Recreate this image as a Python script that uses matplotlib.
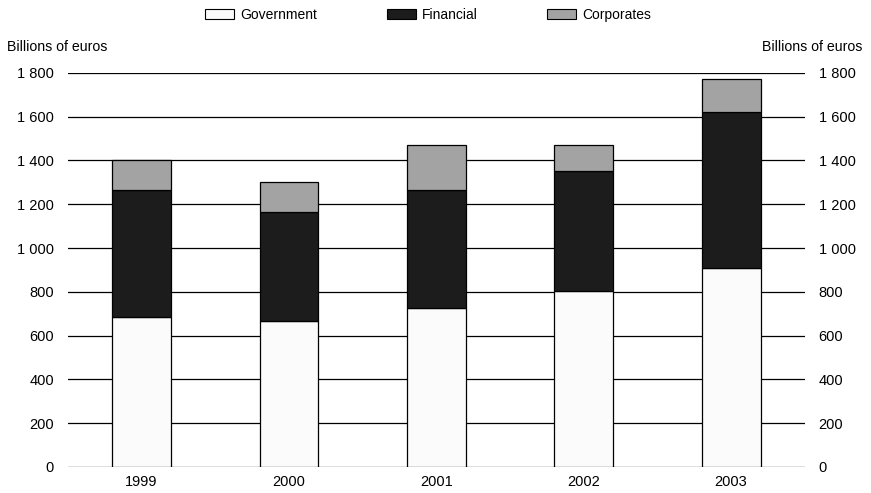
import matplotlib
matplotlib.use("Agg")
import matplotlib.pyplot as plt
from matplotlib.patches import Patch
import numpy as np

plt.rcParams['font.family'] = ['Liberation Sans', 'DejaVu Sans']

years = ["1999", "2000", "2001", "2002", "2003"]
government = [685, 667, 726, 804, 909]
financial = [580, 498, 539, 548, 713]
corporates = [135, 137, 206, 119, 150]
yticks = [0, 200, 400, 600, 800, 1000, 1200, 1400, 1600, 1800]
ytick_labels = ["0", "200", "400", "600", "800", "1 000", "1 200", "1 400", "1 600", "1 800"]
series_names = ["Government", "Financial", "Corporates"]
series_colors = ["#fbfbfb", "#1c1c1c", "#a3a3a3"]

fig = plt.figure(figsize=(8.71, 4.93), dpi=100)
ax = fig.add_axes([0.078, 0.053, 0.846, 0.799])

x = np.arange(len(years))
w = 0.4
gov = np.array(government)
fin = np.array(financial)
cor = np.array(corporates)

ax.bar(x, gov, w, color=series_colors[0], edgecolor="black", linewidth=0.9, zorder=3)
ax.bar(x, fin, w, bottom=gov, color=series_colors[1], edgecolor="black", linewidth=0.9, zorder=3)
ax.bar(x, cor, w, bottom=gov + fin, color=series_colors[2], edgecolor="black", linewidth=0.9, zorder=3)

ax.set_xlim(-0.5, 4.5)
ax.set_ylim(0, 1800)
for t in yticks:
    ax.axhline(t, color="black", linewidth=0.9, zorder=1)

for s in ax.spines.values():
    s.set_visible(False)
ax.set_yticks(yticks)
ax.set_yticklabels(ytick_labels, fontsize=10.5)
ax.tick_params(axis='y', length=0, pad=10)
ax.set_xticks(x)
ax.set_xticklabels(years, fontsize=10.5)
ax.tick_params(axis='x', length=0, pad=6)

ax2 = ax.twinx()
ax2.set_ylim(0, 1800)
ax2.set_yticks(yticks)
ax2.set_yticklabels(ytick_labels, fontsize=10.5)
ax2.tick_params(axis='y', length=0, pad=10)
for s in ax2.spines.values():
    s.set_visible(False)

fig.text(0.008, 0.905, "Billions of euros", fontsize=10.2, ha="left", va="center")
fig.text(0.99, 0.905, "Billions of euros", fontsize=10.2, ha="right", va="center")

legend_x = [0.235, 0.444, 0.628]
for name, col, lx in zip(series_names, series_colors, legend_x):
    h = Patch(facecolor=col, edgecolor="black", linewidth=0.8, label=name)
    fig.legend(handles=[h], loc="center left", bbox_to_anchor=(lx, 0.97),
               frameon=False, fontsize=10, handlelength=2.1, handleheight=0.7,
               handletextpad=0.45, borderpad=0, borderaxespad=0)

fig.savefig("out.png", dpi=100)
